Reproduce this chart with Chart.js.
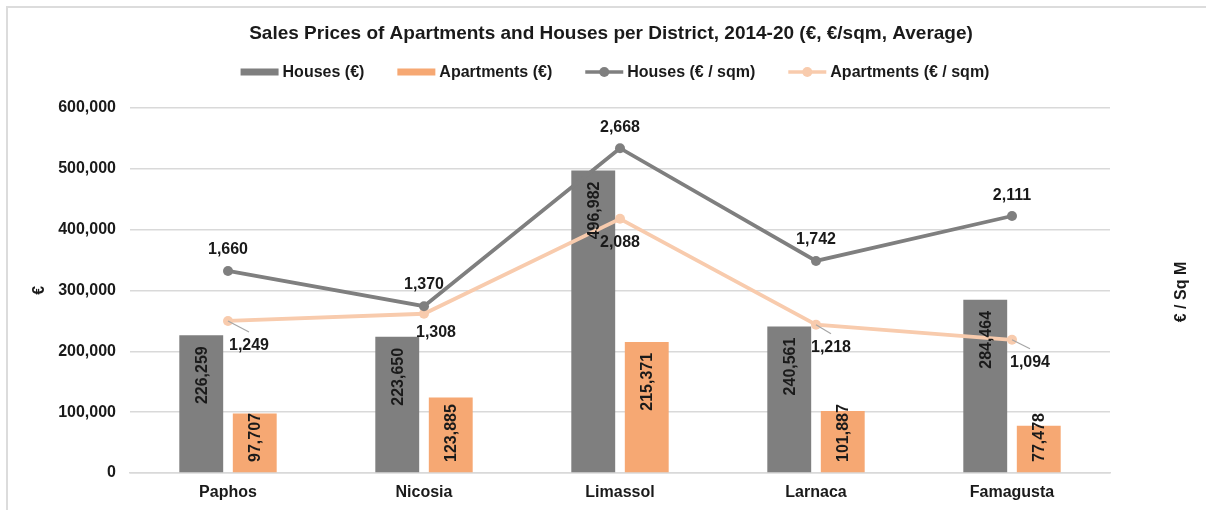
<!DOCTYPE html>
<html>
<head>
<meta charset="utf-8">
<script src="https://cdn.jsdelivr.net/npm/chart.js@4.4.0/dist/chart.umd.min.js"></script>
<style>
  html, body { margin: 0; padding: 0; background: #fff; }
  #wrap { position: relative; width: 1206px; height: 510px; overflow: hidden; }
  #frame { position: absolute; left: 6px; top: 6px; width: 1300px; height: 600px;
    border-left: 2px solid #dcdcdc; border-top: 2px solid #dcdcdc; pointer-events: none; }
  canvas { position: absolute; left: 0; top: 0; }
</style>
</head>
<body>
<div id="wrap">
  <div id="frame"></div>
  <canvas id="salesChart" width="1206" height="510"></canvas>
</div>
<script>
(function () {
  "use strict";

  // Data
  const districts = ["Paphos", "Nicosia", "Limassol", "Larnaca", "Famagusta"];
  const housesPrice = [226259, 223650, 496982, 240561, 284464];
  const apartmentsPrice = [97707, 123885, 215371, 101887, 77478];
  const housesSqm = [1660, 1370, 2668, 1742, 2111];
  const apartmentsSqm = [1249, 1308, 2088, 1218, 1094];
  const priceTicks = [0, 100000, 200000, 300000, 400000, 500000, 600000];

  const GRAY = "#7f7f7f";
  const ORANGE = "#f6a873";
  const PEACH = "#f8cbad";
  const TEXT = "#1a1a1a";
  const FONT = "'Liberation Sans', Arial, sans-serif";

  // label offsets for the €/sqm line labels (dx, dy from the point), leader line flag
  const houseLabelPos = [[0, -21], [0, -22], [0, -21], [0, -21], [0, -20]];
  const aptLabelPos = [[21, 25, true], [12, 19, false], [0, 24, false], [15, 23, true], [18, 23, true]];

  const fmt = (v) => v.toLocaleString("en-US");

  // Legend (drawn by hand so that the spacing matches)
  function drawLegend(chart) {
    const ctx = chart.ctx;
    const ds = chart.data.datasets;
    const y = 72;
    const markW = 38, gap = 4, itemGap = 33;
    ctx.save();
    ctx.font = "bold 16px " + FONT;
    const widths = ds.map((d) => markW + gap + ctx.measureText(d.label).width);
    const total = widths.reduce((a, b) => a + b, 0) + itemGap * (ds.length - 1);
    let x = 615 - total / 2;
    ds.forEach((d, i) => {
      if (d.type === "line") {
        ctx.strokeStyle = d.borderColor;
        ctx.lineWidth = 3.5;
        ctx.beginPath();
        ctx.moveTo(x, y);
        ctx.lineTo(x + markW, y);
        ctx.stroke();
        ctx.fillStyle = d.borderColor;
        ctx.beginPath();
        ctx.arc(x + markW / 2, y, 5, 0, Math.PI * 2);
        ctx.fill();
      } else {
        ctx.fillStyle = d.backgroundColor;
        ctx.fillRect(x, y - 3.5, markW, 7);
      }
      ctx.fillStyle = TEXT;
      ctx.textAlign = "left";
      ctx.textBaseline = "middle";
      ctx.fillText(d.label, x + markW + gap, y + 1);
      x += widths[i] + itemGap;
    });
    ctx.restore();
  }

  // Draws value labels, the legend and the right-hand axis title
  const labelPlugin = {
    id: "valueLabels",
    afterDatasetsDraw(chart) {
      const ctx = chart.ctx;
      const base = chart.scales.y.getPixelForValue(0);
      ctx.save();
      ctx.fillStyle = TEXT;
      ctx.font = "bold 16px " + FONT;

      // bar labels, rotated, inside end
      [0, 1].forEach((di) => {
        const meta = chart.getDatasetMeta(di);
        meta.data.forEach((bar, i) => {
          const txt = fmt(chart.data.datasets[di].data[i]);
          const w = ctx.measureText(txt).width;
          let top = bar.y + 11;
          if (top + w > base - 11) top = base - 11 - w;
          ctx.save();
          ctx.translate(bar.x, top + w / 2);
          ctx.rotate(-Math.PI / 2);
          ctx.textAlign = "center";
          ctx.textBaseline = "middle";
          ctx.fillText(txt, 0, 1);
          ctx.restore();
        });
      });

      ctx.textAlign = "center";
      ctx.textBaseline = "middle";
      // houses €/sqm labels
      chart.getDatasetMeta(2).data.forEach((pt, i) => {
        const p = houseLabelPos[i];
        ctx.fillText(fmt(housesSqm[i]), pt.x + p[0], pt.y + p[1]);
      });
      // apartments €/sqm labels with leader lines
      chart.getDatasetMeta(3).data.forEach((pt, i) => {
        const p = aptLabelPos[i];
        if (p[2]) {
          ctx.save();
          ctx.strokeStyle = "#a6a6a6";
          ctx.lineWidth = 1.2;
          ctx.beginPath();
          ctx.moveTo(pt.x, pt.y);
          ctx.lineTo(pt.x + p[0], pt.y + p[1] - 14);
          ctx.stroke();
          ctx.restore();
        }
        ctx.fillText(fmt(apartmentsSqm[i]), pt.x + p[0], pt.y + p[1]);
      });

      // right axis title, reads bottom to top
      ctx.translate(1182, 292);
      ctx.rotate(-Math.PI / 2);
      ctx.fillText("€ / Sq M", 0, 0);
      ctx.restore();

      drawLegend(chart);
    },
  };

  new Chart(document.getElementById("salesChart"), {
    type: "bar",
    data: {
      labels: districts,
      datasets: [
        {
          label: "Houses (€)",
          data: housesPrice,
          backgroundColor: GRAY,
          yAxisID: "y",
          order: 2,
          categoryPercentage: 0.546,
          barPercentage: 0.82,
        },
        {
          label: "Apartments (€)",
          data: apartmentsPrice,
          backgroundColor: ORANGE,
          yAxisID: "y",
          order: 2,
          categoryPercentage: 0.546,
          barPercentage: 0.82,
        },
        {
          type: "line",
          label: "Houses (€ / sqm)",
          data: housesSqm,
          borderColor: GRAY,
          backgroundColor: GRAY,
          borderWidth: 3.8,
          pointRadius: 5,
          pointBorderWidth: 0,
          tension: 0,
          yAxisID: "y2",
          order: 1,
        },
        {
          type: "line",
          label: "Apartments (€ / sqm)",
          data: apartmentsSqm,
          borderColor: PEACH,
          backgroundColor: PEACH,
          borderWidth: 3.8,
          pointRadius: 5,
          pointBorderWidth: 0,
          tension: 0,
          yAxisID: "y2",
          order: 1,
        },
      ],
    },
    options: {
      responsive: false,
      animation: false,
      events: [],
      layout: { padding: { left: 16, right: 0, top: 0, bottom: 0 } },
      plugins: {
        tooltip: { enabled: false },
        legend: { display: false },
        title: {
          display: true,
          text: "Sales Prices of Apartments and Houses per District, 2014-20 (€, €/sqm, Average)",
          color: TEXT,
          font: { family: FONT, size: 19, weight: "bold" },
          padding: { top: 22, bottom: 63 },
        },
      },
      scales: {
        x: {
          afterFit: (axis) => {
            axis.height = 37;
          },
          grid: { display: false, drawTicks: false },
          border: { color: "#d9d9d9", width: 1.5 },
          ticks: {
            color: TEXT,
            padding: 10,
            font: { family: FONT, size: 16, weight: "bold" },
          },
        },
        y: {
          min: 0,
          max: 600000,
          afterBuildTicks: (axis) => {
            axis.ticks = priceTicks.map((v) => ({ value: v }));
          },
          afterFit: (axis) => {
            axis.width = 114;
          },
          grid: { color: "#d9d9d9", lineWidth: 1.5, drawTicks: false },
          border: { display: false },
          ticks: {
            color: TEXT,
            padding: 14,
            font: { family: FONT, size: 16, weight: "bold" },
            callback: (v) => fmt(v),
          },
          title: {
            display: true,
            text: "€",
            color: TEXT,
            font: { family: FONT, size: 16, weight: "bold" },
            padding: { top: 14, bottom: 0 },
          },
        },
        y2: {
          position: "right",
          min: 0,
          max: 3000,
          afterFit: (axis) => {
            axis.width = 96;
          },
          grid: { display: false, drawTicks: false },
          border: { display: false },
          ticks: { display: false },
        },
      },
    },
    plugins: [labelPlugin],
  });
})();
</script>
</body>
</html>
